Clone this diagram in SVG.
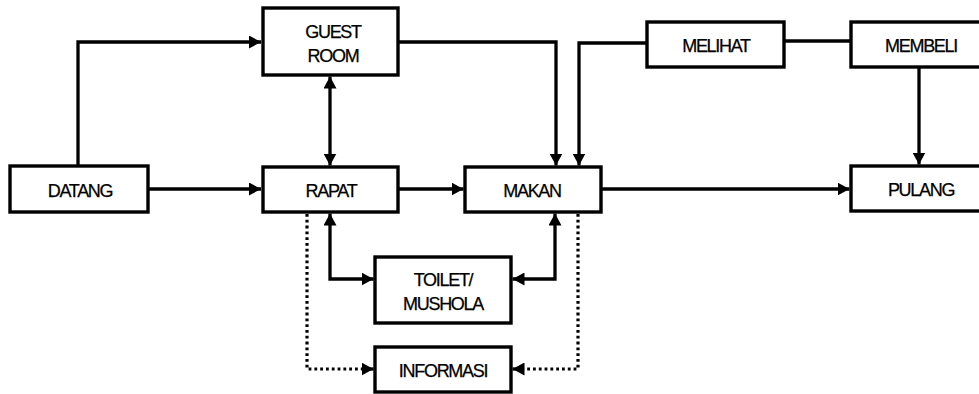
<svg xmlns="http://www.w3.org/2000/svg" width="979" height="394" viewBox="0 0 979 394">
  <style>
    .box { fill: #fff; stroke: #000; stroke-width: 3.4; }
    .lbl { font-family: "Liberation Sans", Arial, sans-serif; font-size: 18px; letter-spacing: -1.3px; text-anchor: middle; fill: #000; stroke: #000; stroke-width: 0.25; }
    .ln { fill: none; stroke: #000; stroke-width: 3.3; }
    .dot { fill: none; stroke: #000; stroke-width: 3.2; stroke-dasharray: 2.8 3; }
  </style>
  <defs>
    <marker id="ah" viewBox="0 0 12 13" refX="12" refY="6.5" markerWidth="12" markerHeight="13" markerUnits="userSpaceOnUse" orient="auto-start-reverse">
      <path d="M0,0 L12,6.5 L0,13 Z" fill="#000"/>
    </marker>
  </defs>

  <g id="connectors">
    <path class="ln" d="M78 166 V42 H261" marker-end="url(#ah)"/>
    <path class="ln" d="M148 189 H261" marker-end="url(#ah)"/>
    <path class="ln" d="M330 76.5 V165.5" marker-start="url(#ah)" marker-end="url(#ah)"/>
    <path class="ln" d="M398 189 H463.5" marker-end="url(#ah)"/>
    <path class="ln" d="M398 42 H556 V165.5" marker-end="url(#ah)"/>
    <path class="ln" d="M647 43 H579 V165.5" marker-end="url(#ah)"/>
    <path class="ln" d="M784 41 H851"/>
    <path class="ln" d="M919 67 V164.5" marker-end="url(#ah)"/>
    <path class="ln" d="M601 189 H849.5" marker-end="url(#ah)"/>
    <path class="ln" d="M330 213.5 V279 H373.5" marker-start="url(#ah)" marker-end="url(#ah)"/>
    <path class="ln" d="M555 213.5 V279 H512.5" marker-start="url(#ah)" marker-end="url(#ah)"/>
    <path class="dot" d="M307 214 V369 H362"/>
    <path class="ln" d="M362 369 H373.5" marker-end="url(#ah)"/>
    <path class="dot" d="M578 214 V369 H524"/>
    <path class="ln" d="M524 369 H512.5" marker-end="url(#ah)"/>
  </g>

  <g id="datang">
    <rect class="box" x="10" y="166" width="138" height="46"/>
    <text class="lbl" x="80" y="197">DATANG</text>
  </g>
  <g id="guest-room">
    <rect class="box" x="263" y="8" width="135" height="67"/>
    <text class="lbl" x="333" y="38">GUEST</text>
    <text class="lbl" x="333" y="62">ROOM</text>
  </g>
  <g id="rapat">
    <rect class="box" x="263" y="167" width="135" height="45"/>
    <text class="lbl" x="331" y="197">RAPAT</text>
  </g>
  <g id="makan">
    <rect class="box" x="465" y="167" width="136" height="45"/>
    <text class="lbl" x="532" y="197">MAKAN</text>
  </g>
  <g id="melihat">
    <rect class="box" x="647" y="22" width="137" height="45"/>
    <text class="lbl" x="716" y="52">MELIHAT</text>
  </g>
  <g id="membeli">
    <rect class="box" x="851" y="22" width="142" height="45"/>
    <text class="lbl" x="921" y="52">MEMBELI</text>
  </g>
  <g id="pulang">
    <rect class="box" x="851" y="166" width="142" height="45"/>
    <text class="lbl" x="921" y="196">PULANG</text>
  </g>
  <g id="toilet-mushola">
    <rect class="box" x="375" y="257" width="136" height="66"/>
    <text class="lbl" x="443" y="286">TOILET/</text>
    <text class="lbl" x="443" y="310">MUSHOLA</text>
  </g>
  <g id="informasi">
    <rect class="box" x="375" y="347" width="136" height="45"/>
    <text class="lbl" x="443" y="377">INFORMASI</text>
  </g>
</svg>
